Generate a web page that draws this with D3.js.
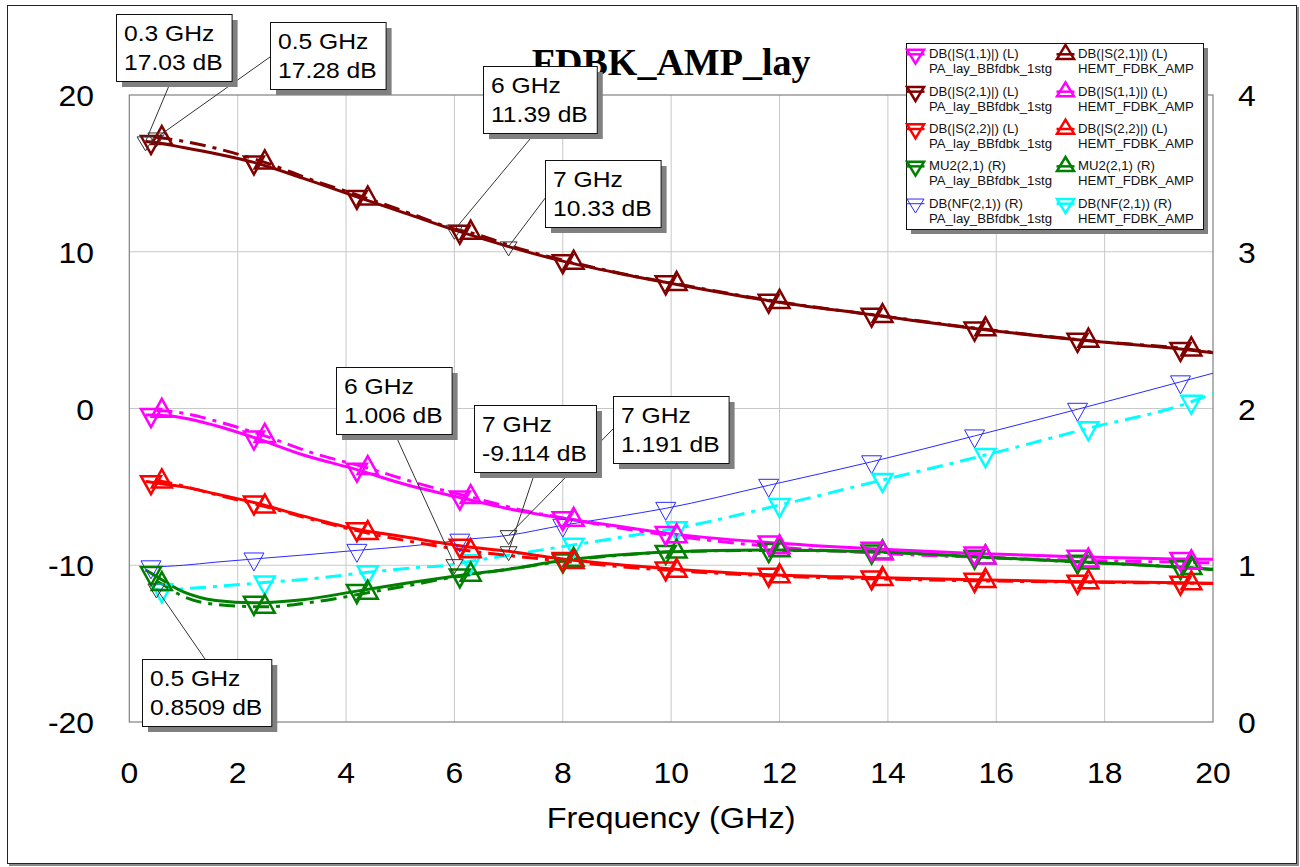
<!DOCTYPE html>
<html><head><meta charset="utf-8">
<script src="https://cdn.jsdelivr.net/npm/d3@7"></script>
<style>body{margin:0;background:#fff}svg{display:block}</style>
</head><body><svg id="c" width="1300" height="867"></svg>
<script>
// ---------------- DATA ----------------
const paFreq   = [0.3,0.4,1.0,1.6,2.3,3.2,4.2,5.1,6.0,6.1,7.0,8.0,9.0,9.9,11.8,13.7,15.6,17.5,19.4,20];
const hemtFreq = [0.5,0.6,1.0,1.6,2.5,3.4,4.4,5.3,6.0,6.3,7.2,8.2,9.1,10.1,12.0,13.9,15.8,17.7,19.6,20];
const paMarkerFreq   = [0.4,2.3,4.2,6.1,8.0,9.9,11.8,13.7,15.6,17.5,19.4];
const hemtMarkerFreq = [0.6,2.5,4.4,6.3,8.2,10.1,12.0,13.9,15.8,17.7,19.6];

const s11PA = [-0.42,-0.42,-0.6,-1.1,-1.85,-2.95,-3.9,-4.85,-5.6,-5.68,-6.4,-7.0,-7.5,-7.95,-8.55,-8.95,-9.25,-9.45,-9.6,-9.62];
const s21PA = [17.03,17.0,16.65,16.25,15.7,14.7,13.5,12.45,11.39,11.28,10.33,9.4,8.65,8.05,6.88,5.98,5.1,4.38,3.8,3.55];
const s22PA = [-4.65,-4.7,-5.0,-5.45,-6.0,-6.85,-7.7,-8.2,-8.7,-8.75,-9.114,-9.6,-9.95,-10.2,-10.6,-10.78,-10.93,-11.05,-11.11,-11.15];
const mu2PA = [0.97,0.95,0.83,0.775,0.76,0.78,0.835,0.885,0.93,0.935,0.975,1.03,1.065,1.085,1.097,1.087,1.055,1.023,0.988,0.975];
const nfPA  = [0.99,0.99,1.0,1.02,1.04,1.065,1.095,1.12,1.155,1.16,1.191,1.255,1.31,1.363,1.51,1.66,1.825,1.995,2.17,2.225];

const s11HEMT = [-0.15,-0.15,-0.3,-0.8,-1.75,-2.85,-3.8,-4.75,-5.4,-5.65,-6.45,-7.1,-7.65,-8.15,-8.85,-9.25,-9.5,-9.7,-9.82,-9.85];
const s21HEMT = [17.28,17.25,17.05,16.6,15.7,14.55,13.4,12.3,11.45,11.22,10.2,9.3,8.6,7.95,6.8,5.9,5.05,4.33,3.77,3.58];
const s22HEMT = [-4.6,-4.65,-4.95,-5.5,-6.25,-7.1,-7.95,-8.55,-8.95,-9.1,-9.45,-9.8,-10.1,-10.35,-10.7,-10.88,-11.0,-11.08,-11.15,-11.17];
const mu2HEMT = [0.9,0.88,0.8,0.75,0.735,0.765,0.825,0.88,0.925,0.94,0.985,1.035,1.065,1.087,1.095,1.082,1.05,1.018,0.983,0.972];
const nfHEMT  = [0.8509,0.84,0.85,0.865,0.89,0.915,0.955,0.985,1.006,1.025,1.075,1.13,1.18,1.236,1.384,1.544,1.703,1.874,2.043,2.097];

const xTicks = [0,2,4,6,8,10,12,14,16,18,20];
const leftTicks = [-20,-10,0,10,20];
const rightTicks = [0,1,2,3,4];

const annFreq  = [0.3, 0.5, 6, 7, 6, 7, 7, 0.5];
const annValue = [17.03, 17.28, 11.39, 10.33, 1.006, -9.114, 1.191, 0.8509];
const annAxis  = ['L','L','L','L','R','L','R','R'];

const titleText = "FDBK_AMP_lay";
const xTitle = "Frequency (GHz)";

// ---------------- LAYOUT ----------------
const PL = 129.3, PR = 1213, PT = 95, PB = 722;
const SX = 1.12;
const SANS = "'Liberation Sans', Arial, sans-serif";
const annBoxPos = [[116,14],[270,22],[483,66],[545,160],[336,367],[474,405],[613,396],[142,659]];
const annLeadFrom = [[171,81],[270,57],[535,133],[546,197],[395,434],[535,472],[613,429],[205,659]];

const svg = d3.select('#c');
const x = d3.scaleLinear().domain([0,20]).range([PL,PR]);
const yL = d3.scaleLinear().domain([-20,20]).range([PB,PT]);
const yR = d3.scaleLinear().domain([0,4]).range([PB,PT]);

function stext(parent, px, py, str, o) {
  o = o || {};
  return parent.append('text')
    .attr('transform', `translate(${px},${py}) scale(${o.sx==null?SX:o.sx},1)`)
    .attr('text-anchor', o.anchor || 'start')
    .style('font-family', o.family || SANS)
    .style('font-size', (o.size||22)+'px')
    .style('font-weight', o.weight || 'normal')
    .attr('fill', o.fill || '#000')
    .text(str);
}
function tri(up, w, h) {
  return up ? `M0,${-2*h/3}L${w/2},${h/3}L${-w/2},${h/3}Z`
            : `M0,${2*h/3}L${w/2},${-h/3}L${-w/2},${-h/3}Z`;
}

// outer frame with shadow
svg.append('rect').attr('x',9).attr('y',7).attr('width',1290).attr('height',859).attr('fill','#8a8a8a');
svg.append('rect').attr('x',7.5).attr('y',5.5).attr('width',1289).attr('height',858).attr('fill','#fff').attr('stroke','#222').attr('stroke-width',1);

// grid
const grid = svg.append('g');
grid.selectAll('line.vx').data(xTicks.slice(1,-1)).join('line')
  .attr('x1',d=>x(d)).attr('x2',d=>x(d)).attr('y1',PT).attr('y2',PB)
  .attr('stroke','#c8c8c8').attr('stroke-width',1);
grid.selectAll('line.hy').data(leftTicks.slice(1,-1)).join('line')
  .attr('y1',d=>yL(d)).attr('y2',d=>yL(d)).attr('x1',PL).attr('x2',PR)
  .attr('stroke','#c8c8c8').attr('stroke-width',1);
svg.append('rect').attr('x',PL).attr('y',PT).attr('width',PR-PL).attr('height',PB-PT)
  .attr('fill','none').attr('stroke','#808080').attr('stroke-width',1.2);

// tick labels
leftTicks.forEach(t => stext(svg, 94, yL(t)+11, String(t), {size:29, anchor:'end', sx:1.1}));
rightTicks.forEach(t => stext(svg, 1238, yR(t)+11, String(t), {size:29, anchor:'start', sx:1.1}));
xTicks.forEach(t => stext(svg, x(t), 783, String(t), {size:29, anchor:'middle', sx:1.1}));
stext(svg, (PL+PR)/2, 828, xTitle, {size:29, anchor:'middle', sx:1.12});

// title
svg.append('text').attr('x',(PL+PR)/2).attr('y',75).attr('text-anchor','middle')
  .style('font-family',"'Liberation Serif','Times New Roman',serif").style('font-weight','bold')
  .style('font-size','38px').text(titleText);

// series
const DASHDOT = '16,7,4,7';
const series = [
  {id:'s11PA', f:paFreq, v:s11PA, ax:'L', color:'#ff00ff', dash:null, w:3, up:false, mk:paMarkerFreq, ms:2.5, lab1:'DB(|S(1,1)|) (L)', lab2:'PA_lay_BBfdbk_1stg'},
  {id:'s21PA', f:paFreq, v:s21PA, ax:'L', color:'#800000', dash:null, w:3, up:false, mk:paMarkerFreq, ms:2.5, lab1:'DB(|S(2,1)|) (L)', lab2:'PA_lay_BBfdbk_1stg'},
  {id:'s22PA', f:paFreq, v:s22PA, ax:'L', color:'#ff0000', dash:null, w:3, up:false, mk:paMarkerFreq, ms:2.5, lab1:'DB(|S(2,2)|) (L)', lab2:'PA_lay_BBfdbk_1stg'},
  {id:'mu2PA', f:paFreq, v:mu2PA, ax:'R', color:'#008000', dash:null, w:3, up:false, mk:paMarkerFreq, ms:2.5, lab1:'MU2(2,1) (R)', lab2:'PA_lay_BBfdbk_1stg'},
  {id:'nfPA',  f:paFreq, v:nfPA,  ax:'R', color:'#2a2aff', dash:null, w:1, up:false, mk:paMarkerFreq, ms:1, lab1:'DB(NF(2,1)) (R)', lab2:'PA_lay_BBfdbk_1stg'},
  {id:'s21H', f:hemtFreq, v:s21HEMT, ax:'L', color:'#800000', dash:DASHDOT, w:3, up:true, mk:hemtMarkerFreq, ms:2.5, lab1:'DB(|S(2,1)|) (L)', lab2:'HEMT_FDBK_AMP'},
  {id:'s11H', f:hemtFreq, v:s11HEMT, ax:'L', color:'#ff00ff', dash:DASHDOT, w:3, up:true, mk:hemtMarkerFreq, ms:2.5, lab1:'DB(|S(1,1)|) (L)', lab2:'HEMT_FDBK_AMP'},
  {id:'s22H', f:hemtFreq, v:s22HEMT, ax:'L', color:'#ff0000', dash:DASHDOT, w:3, up:true, mk:hemtMarkerFreq, ms:2.5, lab1:'DB(|S(2,2)|) (L)', lab2:'HEMT_FDBK_AMP'},
  {id:'mu2H', f:hemtFreq, v:mu2HEMT, ax:'R', color:'#008000', dash:DASHDOT, w:3, up:true, mk:hemtMarkerFreq, ms:2.5, lab1:'MU2(2,1) (R)', lab2:'HEMT_FDBK_AMP'},
  {id:'nfH',  f:hemtFreq, v:nfHEMT,  ax:'R', color:'#00ffff', dash:DASHDOT, w:3, up:false, mk:hemtMarkerFreq, ms:2.5, lab1:'DB(NF(2,1)) (R)', lab2:'HEMT_FDBK_AMP'}
];

const plot = svg.append('g');
const drawOrder = ['nfPA','nfH','mu2H','s22H','s11H','s21H','mu2PA','s22PA','s11PA','s21PA'];
drawOrder.forEach(id => {
  const s = series.find(d=>d.id===id);
  const ys = s.ax==='L' ? yL : yR;
  const pts = s.f.map((fr,i)=>({f:fr, v:s.v[i]}));
  const line = d3.line().x(d=>x(d.f)).y(d=>ys(d.v)).curve(d3.curveMonotoneX);
  plot.append('path').datum(pts).attr('d',line).attr('fill','none')
    .attr('stroke',s.color).attr('stroke-width',s.w)
    .attr('stroke-dasharray',s.dash).attr('stroke-linejoin','round');
});
drawOrder.forEach(id => {
  const s = series.find(d=>d.id===id);
  const ys = s.ax==='L' ? yL : yR;
  const pts = s.f.map((fr,i)=>({f:fr, v:s.v[i]})).filter(d=>s.mk.includes(d.f));
  plot.selectAll(null).data(pts).join('path')
    .attr('transform',d=>`translate(${x(d.f)},${ys(d.v)})`)
    .attr('d',tri(s.up,20,18)).attr('fill','none')
    .attr('stroke',s.color).attr('stroke-width',s.ms).attr('stroke-linejoin','miter');
});

// annotations
const ann = svg.append('g');
annFreq.forEach((fr,i) => {
  const ys = annAxis[i]==='L' ? yL : yR;
  ann.append('path').attr('transform',`translate(${x(fr)},${ys(annValue[i])})`)
    .attr('d',tri(false,17,14)).attr('fill','none').attr('stroke','#333').attr('stroke-width',1);
  ann.append('line').attr('x1',annLeadFrom[i][0]).attr('y1',annLeadFrom[i][1])
    .attr('x2',x(fr)).attr('y2',ys(annValue[i])).attr('stroke','#333').attr('stroke-width',1);
});
annFreq.forEach((fr,i) => {
  const [bx,by] = annBoxPos[i];
  const g = ann.append('g');
  const sh = g.append('rect').attr('fill','#808080');
  const bx_ = g.append('rect').attr('fill','#fff').attr('stroke','#111').attr('stroke-width',1);
  const t1 = stext(g, bx+8, by+26.5, `${fr} GHz`, {size:22});
  const t2 = stext(g, bx+8, by+56, `${annValue[i]} dB`, {size:22});
  const w = Math.max(t1.node().getComputedTextLength(), t2.node().getComputedTextLength())*SX + 17;
  const h = 67;
  sh.attr('x',bx+6).attr('y',by+6).attr('width',w).attr('height',h);
  bx_.attr('x',bx+0.5).attr('y',by+0.5).attr('width',w).attr('height',h);
});

// legend
const lg = svg.append('g');
const LX = 906, LY = 43, LW = 297, LH = 186;
lg.append('rect').attr('x',LX+5).attr('y',LY+5).attr('width',LW).attr('height',LH).attr('fill','#808080');
lg.append('rect').attr('x',LX+0.5).attr('y',LY+0.5).attr('width',LW).attr('height',LH).attr('fill','#fff').attr('stroke','#111').attr('stroke-width',1);
const col1 = ['s11PA','s21PA','s22PA','mu2PA','nfPA'];
const col2 = ['s21H','s11H','s22H','mu2H','nfH'];
[[col1,915.5,929],[col2,1065.5,1078]].forEach(([ids,mx,tx]) => {
  ids.forEach((id,r) => {
    const s = series.find(d=>d.id===id);
    const base = 58.3 + r*37.35;
    const cy = base - 4;
    lg.append('line').attr('x1',mx-9).attr('x2',mx+9).attr('y1',cy).attr('y2',cy)
      .attr('stroke',s.color).attr('stroke-width',s.w===1?1:2.5);
    lg.append('path').attr('transform',`translate(${mx},${cy})`)
      .attr('d',tri(s.up,17,14)).attr('fill','none').attr('stroke',s.color)
      .attr('stroke-width',s.ms);
    stext(lg, tx, base, s.lab1, {size:12, sx:1.1, fill:'#111'});
    stext(lg, tx, base+15, s.lab2, {size:12, sx:1.1, fill:'#111'});
  });
});
</script></body></html>
